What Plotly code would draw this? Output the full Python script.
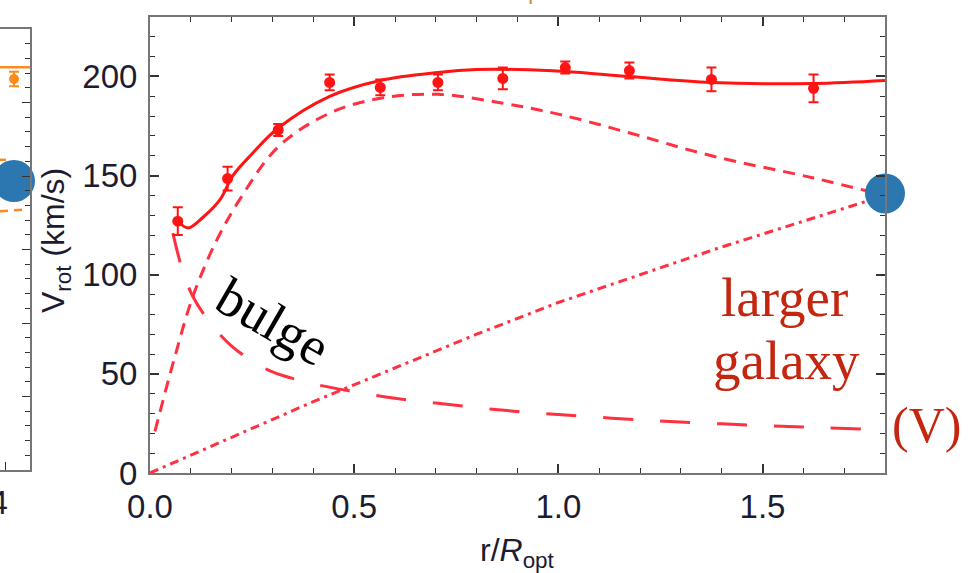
import plotly.graph_objects as go

# ---------------- data ----------------
# observed rotation curve of the "larger galaxy"
r_obs = [0.068, 0.19, 0.314, 0.44, 0.564, 0.705, 0.864, 1.017, 1.174, 1.375, 1.625]
v_obs = [127, 148.5, 173, 197, 194.5, 197, 199, 204.5, 203, 198.5, 194]
v_err = [7, 6, 3, 4, 4, 4, 5.5, 3, 4, 6, 7]

# total model (solid)
r_tot = [0.065, 0.093, 0.13, 0.172, 0.203, 0.25, 0.314, 0.44, 0.564, 0.705,
         0.8, 0.9, 1.017, 1.174, 1.375, 1.625, 1.8]
v_tot = [127.8, 123.6, 129, 138, 150, 161, 174, 190, 198, 202,
         203.5, 203.5, 202.5, 200, 197, 196.5, 198]

# disk (short dashes)
r_disk = [0.012, 0.06, 0.105, 0.16, 0.22, 0.314, 0.44, 0.564, 0.705, 0.864,
          1.0, 1.175, 1.375, 1.625, 1.8]
v_disk = [21, 58, 89, 116, 138, 164.5, 181.5, 189, 191, 186.5,
          181, 171.5, 160, 148.8, 140]

# bulge (long dashes)
r_bulge = [0.056, 0.08, 0.105, 0.15, 0.2, 0.25, 0.3, 0.4, 0.5, 0.6, 0.7, 0.8,
           0.9, 1.0, 1.2, 1.4, 1.6, 1.8]
v_bulge = [121, 102, 89, 75, 64, 56.5, 51, 45, 41, 37.7, 35.3, 33,
           31, 29.5, 26.8, 24.8, 23.2, 21.7]

# halo (dash-dot)
r_halo = [0, 0.2, 0.4, 0.6, 0.8, 1.0, 1.2, 1.4, 1.6, 1.8]
v_halo = [0, 18, 36, 53, 70, 86, 100, 114, 127, 140]

# highlighted point at the edge of the larger galaxy
dot_r = [1.8]
dot_v = [141]

# fragment of the neighbouring (cut-off) panel on the left
left_line_x = [0, 30]
left_line_y = [274, 274]
left_pt_x = [14]
left_pt_y = [266]
left_pt_err = [5]
left_dash_x = [0, 22]
left_dash_y = [176, 177]
left_dash2_x = [0, 6]
left_dash2_y = [211, 211]
left_dot_x = [14]
left_dot_y = [196.6]

# tick settings
x_range = [0, 1.8]
y_range = [0, 230]

# ---------------- figure ----------------
W, H = 976, 573


def px(x):
    return x / W


def py(y):
    return 1 - y / H


RED = "#ff1414"
RED_D = "#ff3040"
BLUE = "#2c77b0"
ORANGE = "#ff8a1c"
TICKC = "#333333"
LINEC = "#767676"
TXT = "#1c1c30"
LABEL_RED = "#c4260f"
SANS = "Liberation Sans, Arial, sans-serif"
SERIF = "Liberation Serif, Times New Roman, serif"

fig = go.Figure()

fig.add_trace(go.Scatter(x=r_halo, y=v_halo, mode="lines",
                         line=dict(color=RED_D, width=3, dash="9px,5px,3px,5px"),
                         hoverinfo="skip"))
fig.add_trace(go.Scatter(x=r_bulge, y=v_bulge, mode="lines",
                         line=dict(color=RED_D, width=3, dash="30px,27px", shape="spline"),
                         hoverinfo="skip"))
fig.add_trace(go.Scatter(x=r_disk, y=v_disk, mode="lines",
                         line=dict(color=RED_D, width=3, dash="12px,8px", shape="spline"),
                         hoverinfo="skip"))
fig.add_trace(go.Scatter(x=r_tot, y=v_tot, mode="lines",
                         line=dict(color=RED, width=3, shape="spline"),
                         hoverinfo="skip"))
fig.add_trace(go.Scatter(x=r_obs, y=v_obs, mode="markers",
                         marker=dict(color=RED, size=11),
                         error_y=dict(type="data", array=v_err, color=RED,
                                      thickness=2, width=5),
                         hoverinfo="skip"))
fig.add_trace(go.Scatter(x=dot_r, y=dot_v, mode="markers",
                         marker=dict(color=BLUE, size=40),
                         cliponaxis=False, hoverinfo="skip"))

# left fragment panel
fig.add_trace(go.Scatter(x=left_line_x, y=left_line_y, mode="lines",
                         line=dict(color=ORANGE, width=2.5),
                         xaxis="x2", yaxis="y2", hoverinfo="skip"))
fig.add_trace(go.Scatter(x=left_pt_x, y=left_pt_y, mode="markers",
                         marker=dict(color=ORANGE, size=10),
                         error_y=dict(type="data", array=left_pt_err, color=ORANGE,
                                      thickness=2, width=5),
                         xaxis="x2", yaxis="y2", hoverinfo="skip"))
fig.add_trace(go.Scatter(x=left_dash_x, y=left_dash_y, mode="lines",
                         line=dict(color=ORANGE, width=2.5, dash="8px,6px"),
                         xaxis="x2", yaxis="y2", hoverinfo="skip"))
fig.add_trace(go.Scatter(x=left_dash2_x, y=left_dash2_y, mode="lines",
                         line=dict(color=ORANGE, width=2.5, dash="8px,6px"),
                         xaxis="x2", yaxis="y2", hoverinfo="skip"))
fig.add_trace(go.Scatter(x=left_dot_x, y=left_dot_y, mode="markers",
                         marker=dict(color=BLUE, size=42),
                         cliponaxis=False, xaxis="x2", yaxis="y2", hoverinfo="skip"))

axis_common = dict(
    ticks="inside", ticklen=9, tickwidth=1.5, tickcolor=TICKC,
    showline=True, linecolor=LINEC, linewidth=2, mirror="ticks",
    showgrid=False, zeroline=False, automargin=False,
    tickfont=dict(family=SANS, size=33, color=TXT),
)

fig.update_layout(
    template="none",
    width=W, height=H,
    margin=dict(l=0, r=0, t=0, b=0, pad=0, autoexpand=False),
    paper_bgcolor="white", plot_bgcolor="white",
    showlegend=False,
    xaxis=dict(domain=[px(150), px(885)], range=x_range, dtick=0.5, tick0=0,
               tickformat=".1f", ticklabelstandoff=3,
               minor=dict(dtick=0.1, ticks="inside", ticklen=5, tickwidth=1,
                          tickcolor=TICKC, showgrid=False),
               **axis_common),
    yaxis=dict(domain=[py(473), py(17)], range=y_range, dtick=50, tick0=0,
               ticklabelstandoff=4,
               minor=dict(dtick=10, ticks="inside", ticklen=5, tickwidth=1,
                          tickcolor=TICKC, showgrid=False),
               **axis_common),
    xaxis2=dict(domain=[0, px(30)], range=[0, 30], anchor="y2",
                tickvals=[5], ticks="inside", ticklen=8, tickcolor=TICKC,
                showticklabels=False, showline=True, linecolor=LINEC,
                linewidth=2, mirror=True, showgrid=False, zeroline=False,
                automargin=False),
    yaxis2=dict(domain=[py(470), py(29)], range=[0, 300], anchor="x2",
                side="right", dtick=50, ticks="inside", ticklen=8,
                tickcolor=TICKC, showticklabels=False, showline=True,
                linecolor=LINEC, linewidth=2, showgrid=False, zeroline=False,
                automargin=False,
                minor=dict(dtick=10, ticks="inside", ticklen=5, tickcolor=TICKC)),
)

annotations = [
    # axis titles
    dict(text="V<sub>rot</sub> (km/s)", x=px(55), y=py(241), xref="paper", yref="paper",
         textangle=-90, showarrow=False, xanchor="center", yanchor="middle",
         font=dict(family=SANS, size=32, color=TXT)),
    dict(text="r/<i>R</i><sub>opt</sub>", x=px(517), y=py(552), xref="paper", yref="paper",
         showarrow=False, xanchor="center", yanchor="middle",
         font=dict(family=SANS, size=32, color=TXT)),
    # hand-written labels
    dict(text="bulge", x=px(273), y=py(322), xref="paper", yref="paper",
         textangle=30, showarrow=False, xanchor="center", yanchor="middle",
         font=dict(family=SERIF, size=54, color="black")),
    dict(text="larger", x=px(784), y=py(297), xref="paper", yref="paper",
         showarrow=False, xanchor="center", yanchor="middle",
         font=dict(family=SERIF, size=55, color=LABEL_RED)),
    dict(text="galaxy", x=px(786), y=py(360), xref="paper", yref="paper",
         showarrow=False, xanchor="center", yanchor="middle",
         font=dict(family=SERIF, size=55, color=LABEL_RED)),
    dict(text="(V)", x=px(926), y=py(425), xref="paper", yref="paper",
         showarrow=False, xanchor="center", yanchor="middle",
         font=dict(family=SERIF, size=50, color=LABEL_RED)),
    # cut-off fragments
    dict(text="1.4", x=px(10), y=py(502), xref="paper", yref="paper",
         showarrow=False, xanchor="right", yanchor="middle",
         font=dict(family=SANS, size=33, color=TXT)),
    dict(text="opt", x=px(531), y=py(6), xref="paper", yref="paper",
         showarrow=False, xanchor="center", yanchor="bottom",
         font=dict(family=SANS, size=22, color="#c98a3c")),
]
fig.update_layout(annotations=annotations)

fig.write_html("out.html", config={"displayModeBar": False},
               post_script="document.body.style.margin='0px';")
